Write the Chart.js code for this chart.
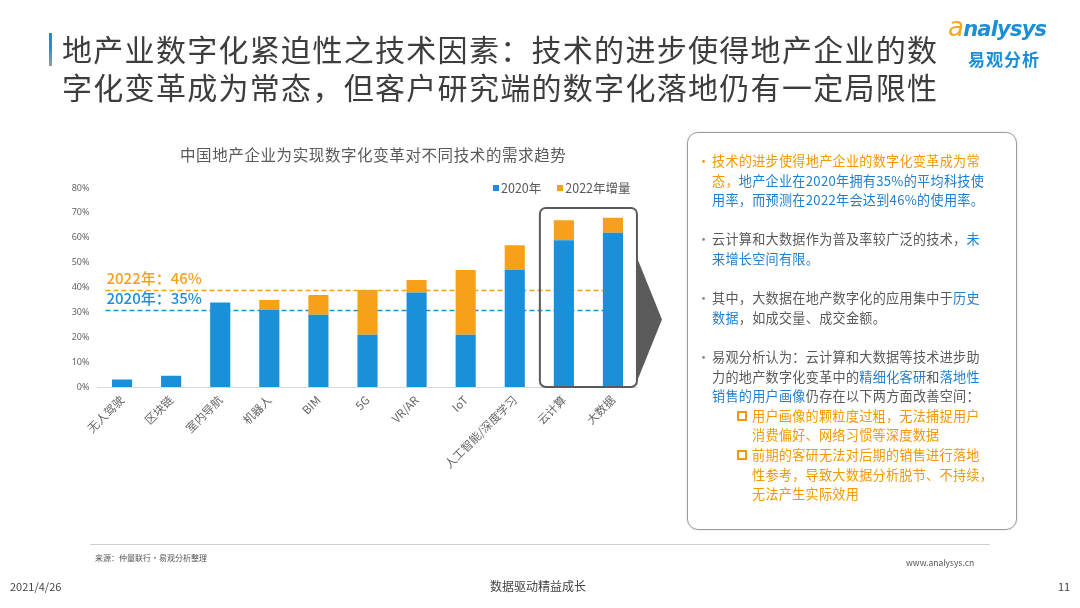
<!DOCTYPE html>
<html lang="zh">
<head>
<meta charset="utf-8">
<script src="https://cdn.jsdelivr.net/npm/chart.js@4"></script>
<style>
  html, body { margin: 0; padding: 0; background: #fff; }
  body { width: 1080px; height: 608px; position: relative; overflow: hidden;
         font-family: "Noto Sans CJK SC", "Noto Sans", sans-serif; color: #555; }
  #chartCanvas { position: absolute; left: 0; top: 0; }
  .abs { position: absolute; white-space: nowrap; }
  .title { left: 62px; top: 29px; font-size: 30px; line-height: 38px; color: #3d3d3d; letter-spacing: 1.3px; }
  .title-bar { left: 49px; top: 33px; width: 3px; height: 33px;
               background: linear-gradient(#1a90db 0%, #1a90db 40%, #9a9a9a 100%); }
  .logo-en { left: 948px; top: 12px; font-size: 21px; font-style: italic; font-weight: bold;
             color: #1a8fd8; font-family: "DejaVu Sans", sans-serif; letter-spacing: -0.8px; }
  .logo-en .a { color: #f5a623; font-weight: normal; font-size: 26px; }
  .logo-cn { left: 968px; top: 46px; font-size: 17px; font-weight: bold; color: #1a8fd8; letter-spacing: 1px; }
  .chart-title { left: 180px; top: 143px; font-size: 15.5px; color: #595959; letter-spacing: 0.6px; }
  #legend { left: 493px; top: 178px; font-size: 12.5px; color: #595959; }
  #legend span.item { margin-right: 16px; }
  #legend i { display: inline-block; width: 6px; height: 6px; margin-right: 2px; vertical-align: 2px; }
  .panel { left: 687px; top: 132px; width: 330px; height: 398px; border: 1px solid #9a9a9a;
           border-radius: 11px; box-shadow: 0 0 3px rgba(0,0,0,0.12); box-sizing: border-box; }
  .ptext { left: 697px; top: 151px; font-size: 13.1px; line-height: 19.6px; letter-spacing: 0.3px; color: #595959; }
  .ptext .p { position: relative; padding-left: 15px; margin-bottom: 19.6px; }
  .ptext .p::before { content: "•"; position: absolute; left: 0; top: 0; color: #8a8a8a; }
  .ptext .p.o::before { color: #f39800; }
  .ptext .sub { position: relative; padding-left: 55px; color: #f39800; margin: 0; }
  .ptext .sub::before { content: ""; position: absolute; left: 40px; top: 5px; width: 6px; height: 6px;
                        border: 2px solid #f39800; }
  .or { color: #f39800; }
  .bl { color: #1f7fd0; }
  .foot-line { left: 90px; top: 544px; width: 900px; height: 1px; background: #d0d0d0; }
  .source { left: 95px; top: 552px; font-size: 8px; color: #555; }
  .site { left: 906px; top: 556px; font-size: 8.5px; color: #555; }
  .date { left: 10px; top: 578px; font-size: 11px; color: #444; }
  .slogan { left: 490px; top: 577px; font-size: 12px; color: #444; }
  .page { left: 1058px; top: 578px; font-size: 11px; color: #444; }
</style>
</head>
<body>
<canvas id="chartCanvas" width="1080" height="608"></canvas>

<div class="abs title-bar"></div>
<div class="abs title">地产业数字化紧迫性之技术因素：技术的进步使得地产企业的数<br>字化变革成为常态，但客户研究端的数字化落地仍有一定局限性</div>
<div class="abs logo-en"><span class="a">a</span>nalysys</div>
<div class="abs logo-cn">易观分析</div>

<div class="abs chart-title">中国地产企业为实现数字化变革对不同技术的需求趋势</div>
<div class="abs" id="legend"></div>

<div class="abs panel"></div>
<div class="abs ptext">
  <div class="p o"><span class="or">技术的进步使得地产企业的数字化变革成为常<br>态，</span><span class="bl">地产企业在2020年拥有35%的平均科技使<br>用率，而预测在2022年会达到46%的使用率。</span></div>
  <div class="p">云计算和大数据作为普及率较广泛的技术，<span class="bl">未<br>来增长空间有限。</span></div>
  <div class="p">其中，大数据在地产数字化的应用集中于<span class="bl">历史<br>数据</span>，如成交量、成交金额。</div>
  <div class="p" style="margin-bottom:0">易观分析认为：云计算和大数据等技术进步助<br>力的地产数字化变革中的<span class="bl">精细化客研</span>和<span class="bl">落地性<br>销售的用户画像</span>仍存在以下两方面改善空间：</div>
  <div class="sub">用户画像的颗粒度过粗，无法捕捉用户<br>消费偏好、网络习惯等深度数据</div>
  <div class="sub">前期的客研无法对后期的销售进行落地<br>性参考，导致大数据分析脱节、不持续，<br>无法产生实际效用</div>
</div>

<div class="abs foot-line"></div>
<div class="abs source">来源：仲量联行·易观分析整理</div>
<div class="abs site">www.analysys.cn</div>
<div class="abs date">2021/4/26</div>
<div class="abs slogan">数据驱动精益成长</div>
<div class="abs page">11</div>

<script>
// chart data
const categories = ['无人驾驶', '区块链', '室内导航', '机器人', 'BIM', '5G', 'VR/AR', 'IoT', '人工智能/深度学习', '云计算', '大数据'];
const values2020 = [3, 4.5, 34, 31, 29, 21, 38, 21, 47, 59, 62];
const increase2022 = [0, 0, 0, 4, 8, 18, 5, 26, 10, 8, 6];
const seriesNames = ['2020年', '2022年增量'];
const yTicks = [0, 10, 20, 30, 40, 50, 60, 70, 80];

// dashed average lines (as drawn) and their labels
const avgLineValues = [39, 31];
const avgLineLabels = ['2022年：46%', '2020年：35%'];
const highlightCats = ['云计算', '大数据'];

const BLUE = '#1a90db';
const ORANGE = '#f7a11a';

// draws dashed average lines + labels behind the bars
const avgLinesPlugin = {
    id: 'avgLines',
    beforeDatasetsDraw(chart) {
        const { ctx, chartArea, scales: { x, y } } = chart;
        const colors = [ORANGE, BLUE];
        const x0 = chartArea.left + 8;
        const x1 = x.getPixelForValue(categories.length - 1) - 10;
        ctx.save();
        avgLineValues.forEach((v, i) => {
            const py = Math.round(y.getPixelForValue(v)) + 0.5;
            ctx.strokeStyle = colors[i];
            ctx.lineWidth = 1.5;
            ctx.setLineDash([5, 3]);
            ctx.beginPath();
            ctx.moveTo(x0, py);
            ctx.lineTo(x1, py);
            ctx.stroke();
            ctx.setLineDash([]);
            ctx.fillStyle = colors[i];
            ctx.font = '500 15px "Noto Sans CJK SC", sans-serif';
            ctx.textBaseline = 'alphabetic';
            ctx.fillText(avgLineLabels[i], chartArea.left + 9, py - 7);
        });
        ctx.restore();
    }
};

// frame around the highlighted bars and the arrow pointing to the panel
const highlightPlugin = {
    id: 'highlight',
    afterDatasetsDraw(chart) {
        const { ctx, scales: { x, y } } = chart;
        const i0 = categories.indexOf(highlightCats[0]);
        const i1 = categories.indexOf(highlightCats[1]);
        const left = x.getPixelForValue(i0) - 24;
        const right = x.getPixelForValue(i1) + 24;
        const top = y.getPixelForValue(72);
        const bottom = y.getPixelForValue(0);
        ctx.save();
        ctx.strokeStyle = '#5a5a5a';
        ctx.lineWidth = 2;
        ctx.beginPath();
        ctx.roundRect(left, top, right - left, bottom - top, 6);
        ctx.stroke();

        // arrow
        const mid = (top + bottom) / 2 + 22;
        ctx.fillStyle = '#5b5b5b';
        ctx.beginPath();
        ctx.moveTo(right, mid - 62);
        ctx.lineTo(right + 25, mid);
        ctx.lineTo(right, mid + 62);
        ctx.closePath();
        ctx.fill();
        ctx.restore();
    }
};

function buildLegend(chart) {
    const legend = document.getElementById('legend');
    legend.innerHTML = '';
    chart.data.datasets.forEach(ds => {
        const item = document.createElement('span');
        item.className = 'item';
        item.innerHTML = `<i style="background:${ds.backgroundColor}"></i>${ds.label}`;
        legend.appendChild(item);
    });
}

document.addEventListener('DOMContentLoaded', () => {
    const ctx = document.getElementById('chartCanvas').getContext('2d');

    const chart = new Chart(ctx, {
        type: 'bar',
        data: {
            labels: categories,
            datasets: [{
                label: seriesNames[0],
                data: values2020,
                backgroundColor: BLUE,
                stack: 's'
            }, {
                label: seriesNames[1],
                data: increase2022,
                backgroundColor: ORANGE,
                stack: 's'
            }]
        },
        options: {
            responsive: false,
            animation: false,
            devicePixelRatio: 1,
            layout: {
                padding: { left: 40, top: 188, right: 442.5, bottom: 138 }
            },
            datasets: {
                bar: { categoryPercentage: 1, barPercentage: 0.41 }
            },
            scales: {
                x: {
                    stacked: true,
                    grid: { display: false, drawTicks: false },
                    border: { display: true, color: '#d9d9d9', width: 1 },
                    ticks: {
                        color: '#666',
                        font: { size: 11.5, family: '"Noto Sans CJK SC", sans-serif' },
                        minRotation: 45,
                        maxRotation: 45,
                        autoSkip: false,
                        padding: 6
                    },
                    afterFit(scale) { scale.height = 83; }
                },
                y: {
                    stacked: true,
                    min: 0,
                    max: 80,
                    afterBuildTicks(scale) {
                        scale.ticks = yTicks.map(v => ({ value: v }));
                    },
                    grid: { display: false, drawTicks: false },
                    border: { display: false },
                    ticks: {
                        color: '#666',
                        font: { size: 9, family: '"Noto Sans", sans-serif' },
                        padding: 8,
                        callback: v => v + '%'
                    },
                    afterFit(scale) { scale.width = 57.5; }
                }
            },
            plugins: {
                legend: { display: false },
                tooltip: { enabled: false }
            }
        },
        plugins: [avgLinesPlugin, highlightPlugin]
    });

    buildLegend(chart);
});
</script>
</body>
</html>
